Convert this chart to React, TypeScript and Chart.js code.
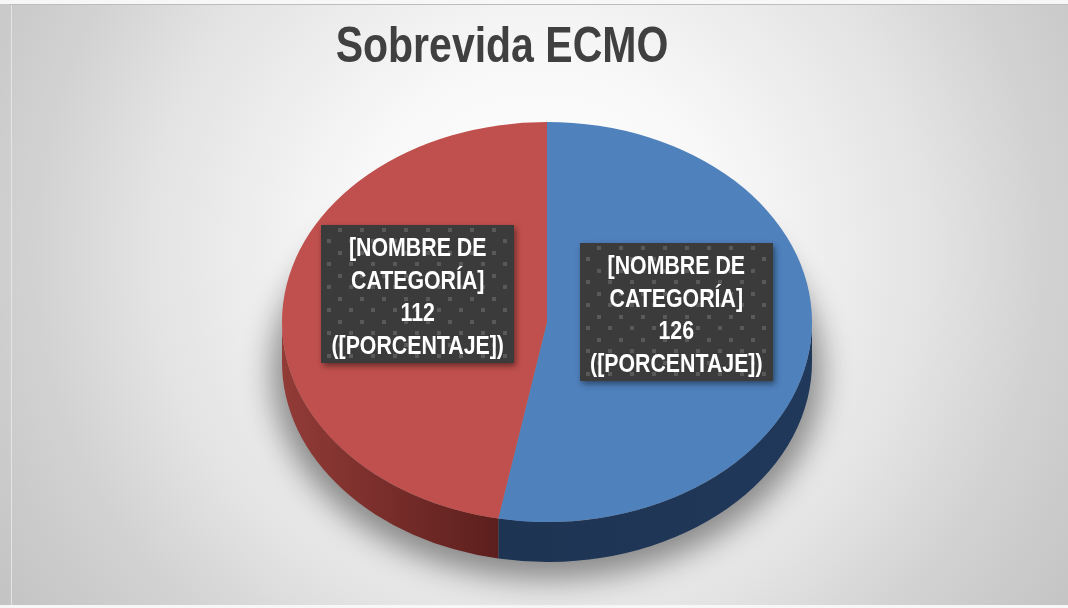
import React, { useEffect, useRef } from 'react';
import { Chart, registerables } from 'chart.js';

Chart.register(...registerables);

const title = 'Sobrevida ECMO';
const categories = ['[NOMBRE DE CATEGORÍA]', '[NOMBRE DE CATEGORÍA]'];
const values = [126, 112];
const percentLabels = ['([PORCENTAJE])', '([PORCENTAJE])'];

const topColors = ['#4f81bd', '#c0504d'];
const sideColorsLeft = ['#1e3453', '#923b37'];
const sideColorsRight = ['#20385a', '#5c1f1d'];

const W = 1068;
const H = 608;
const RY = 200; // vertical radius of the top face
const DEPTH = 40;
const NARROW = 0.82;
const FONT = '"Liberation Sans", Arial, sans-serif';

function splitName(name: string): string[] {
  const i = name.lastIndexOf(' ');
  if (i < 0) return [name];
  return [name.slice(0, i), name.slice(i + 1)];
}

function frontIntervals(s: number, e: number): [number, number][] {
  const out: [number, number][] = [];
  for (let k = -2; k <= 2; k++) {
    const lo = k * 2 * Math.PI;
    const hi = lo + Math.PI;
    const a = Math.max(s, lo);
    const b = Math.min(e, hi);
    if (b > a) out.push([a, b]);
  }
  return out;
}

function narrowText(ctx: CanvasRenderingContext2D, text: string, x: number, y: number) {
  ctx.save();
  ctx.translate(x, y);
  ctx.scale(NARROW, 1);
  ctx.fillText(text, 0, 0);
  ctx.restore();
}

let patternCanvas: HTMLCanvasElement | null = null;
function getPattern(ctx: CanvasRenderingContext2D) {
  if (!patternCanvas) {
    patternCanvas = document.createElement('canvas');
    patternCanvas.width = 22;
    patternCanvas.height = 23;
    const p = patternCanvas.getContext('2d')!;
    p.fillStyle = '#3b3b3b';
    p.fillRect(0, 0, 22, 23);
    p.fillStyle = '#595959';
    p.fillRect(17, 3, 4, 4);
    p.fillRect(6, 14, 4, 4);
  }
  return ctx.createPattern(patternCanvas, 'repeat')!;
}

const pie3d = {
  id: 'pie3d',
  beforeDraw(chart: any) {
    const ctx: CanvasRenderingContext2D = chart.ctx;
    ctx.save();
    const g = ctx.createRadialGradient(540, 250, 0, 540, 250, 700);
    g.addColorStop(0, '#ffffff');
    g.addColorStop(0.27, '#f8f8f8');
    g.addColorStop(0.56, '#e3e3e3');
    g.addColorStop(0.72, '#d2d2d2');
    g.addColorStop(0.91, '#c4c4c4');
    g.addColorStop(1, '#bebebe');
    ctx.fillStyle = g;
    ctx.fillRect(0, 0, W, H);
    ctx.fillStyle = '#f7f7f7';
    ctx.fillRect(0, 0, W, 4);
    ctx.fillRect(0, 605, W, 3);
    ctx.strokeStyle = '#bdbdbd';
    ctx.lineWidth = 1;
    ctx.beginPath();
    ctx.moveTo(10, 4.5);
    ctx.lineTo(W, 4.5);
    ctx.stroke();
    ctx.strokeStyle = '#e4e4e4';
    ctx.beginPath();
    ctx.moveTo(11.5, 5);
    ctx.lineTo(11.5, 605);
    ctx.stroke();
    ctx.restore();
  },
  beforeDatasetsDraw(chart: any) {
    const ctx: CanvasRenderingContext2D = chart.ctx;
    const meta = chart.getDatasetMeta(0);
    const first = meta.data[0];
    const cx = first.x;
    const cy = first.y;
    const r = first.outerRadius;
    const sy = RY / r;
    const d = DEPTH / sy;
    ctx.save();
    ctx.translate(0, cy);
    ctx.scale(1, sy);
    ctx.translate(0, -cy);
    // soft shadow only (shape drawn off-canvas, shadow shifted back)
    const OFF = 3000;
    ctx.save();
    ctx.shadowColor = 'rgba(0,0,0,0.42)';
    ctx.shadowBlur = 30;
    ctx.shadowOffsetX = -OFF;
    ctx.shadowOffsetY = 10;
    ctx.fillStyle = '#000';
    ctx.beginPath();
    ctx.arc(cx + OFF, cy + d, r + 10, 0, Math.PI * 2);
    ctx.fill();
    ctx.restore();
    // side walls
    meta.data.forEach((el: any, i: number) => {
      const s = el.startAngle;
      const e = el.endAngle;
      frontIntervals(s, e).forEach(([a, b]) => {
        const xa = cx + r * Math.cos(a);
        const xb = cx + r * Math.cos(b);
        const gl = ctx.createLinearGradient(Math.min(xa, xb), 0, Math.max(xa, xb), 0);
        gl.addColorStop(0, sideColorsLeft[i]);
        gl.addColorStop(1, sideColorsRight[i]);
        ctx.fillStyle = gl;
        ctx.beginPath();
        ctx.arc(cx, cy, r, a, b);
        ctx.arc(cx, cy + d, r, b, a, true);
        ctx.closePath();
        ctx.fill();
      });
    });
  },
  afterDatasetsDraw(chart: any) {
    const ctx: CanvasRenderingContext2D = chart.ctx;
    ctx.restore();
    const meta = chart.getDatasetMeta(0);
    const first = meta.data[0];
    const cx = first.x;
    const cy = first.y;
    const r = first.outerRadius;
    const sy = RY / r;
    const labels = chart.data.labels as string[];
    const data = chart.data.datasets[0].data as number[];
    meta.data.forEach((el: any, i: number) => {
      const mid = (el.startAngle + el.endAngle) / 2;
      const px = cx + Math.cos(mid) * r * 0.49;
      const py = cy + Math.sin(mid) * r * 0.49 * sy - 19;
      const bw = 193;
      const bh = 138;
      const bx = Math.round(px - bw / 2);
      const by = Math.round(py - bh / 2);
      ctx.save();
      ctx.shadowColor = 'rgba(0,0,0,0.45)';
      ctx.shadowBlur = 6;
      ctx.shadowOffsetX = 2;
      ctx.shadowOffsetY = 3;
      ctx.fillStyle = '#3b3b3b';
      ctx.fillRect(bx, by, bw, bh);
      ctx.restore();
      ctx.save();
      ctx.translate(bx, by);
      ctx.fillStyle = getPattern(ctx);
      ctx.fillRect(0, 0, bw, bh);
      ctx.restore();
      const lines = [...splitName(labels[i]), String(data[i]), percentLabels[i]];
      ctx.save();
      ctx.fillStyle = '#ffffff';
      ctx.font = 'bold 26px ' + FONT;
      ctx.textAlign = 'center';
      ctx.textBaseline = 'middle';
      const lh = 32.5;
      lines.forEach((ln, k) => {
        narrowText(ctx, ln, px, py + (k - (lines.length - 1) / 2) * lh + 4);
      });
      ctx.restore();
    });
    ctx.save();
    ctx.fillStyle = '#404040';
    ctx.font = 'bold 50px ' + FONT;
    ctx.textAlign = 'center';
    ctx.textBaseline = 'alphabetic';
    narrowText(ctx, title, 502, 62);
    ctx.restore();
  },
};

export default function App() {
  const ref = useRef<HTMLCanvasElement>(null);
  useEffect(() => {
    if (!ref.current) return;
    const chart = new Chart(ref.current, {
      type: 'pie',
      data: {
        labels: categories,
        datasets: [
          {
            data: values,
            backgroundColor: topColors,
            borderWidth: 0,
          },
        ],
      },
      options: {
        responsive: false,
        animation: false,
        events: [],
        layout: { padding: { left: 282, right: 256, top: 57, bottom: 21 } },
        plugins: {
          legend: { display: false },
          tooltip: { enabled: false },
          title: { display: false },
        },
      },
      plugins: [pie3d],
    } as any);
    return () => chart.destroy();
  }, []);
  return (
    <div style={{ position: 'absolute', left: 0, top: 0, width: W, height: H }}>
      <canvas ref={ref} width={W} height={H} style={{ display: 'block' }} />
    </div>
  );
}
